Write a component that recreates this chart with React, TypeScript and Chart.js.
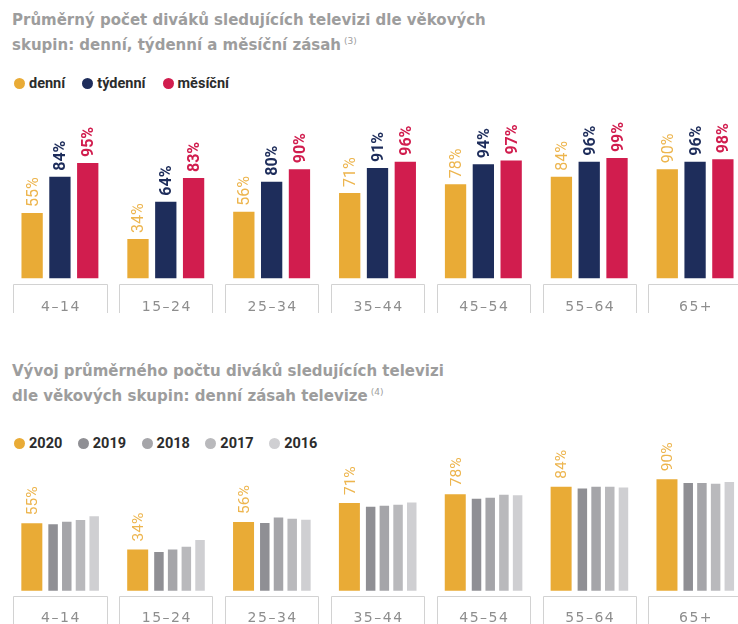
import React, { useEffect, useRef } from 'react';
import { Chart, registerables } from 'chart.js';

Chart.register(...registerables);

// ---------- data ----------
const AGE_GROUPS = ['4–14', '15–24', '25–34', '35–44', '45–54', '55–64', '65+'];

const DAILY = [55, 34, 56, 71, 78, 84, 90];
const WEEKLY = [84, 64, 80, 91, 94, 96, 96];
const MONTHLY = [95, 83, 90, 96, 97, 99, 98];

const Y2020 = [55, 34, 56, 71, 78, 84, 90];
const Y2019 = [54.2, 32, 55.2, 68, 74.4, 82.6, 87];
const Y2018 = [56.1, 34, 59.6, 68.8, 75.2, 84, 87];
const Y2017 = [57.5, 36.2, 58.5, 69.6, 77.7, 84, 86.4];
const Y2016 = [60.5, 41.5, 57.7, 71.5, 77.2, 83.4, 87.8];

const TOP_SERIES = ['denní', 'týdenní', 'měsíční'];
const BOTTOM_SERIES = ['2020', '2019', '2018', '2017', '2016'];

// ---------- styles ----------
const YELLOW = '#E9AB36';
const YELLOW_LABEL = '#EDB54E';
const NAVY = '#1E2D5B';
const CRIMSON = '#D11D4E';
const G2019 = '#8F8F94';
const G2018 = '#A5A5A9';
const G2017 = '#B9B9BC';
const G2016 = '#CFCFD2';

type LabelCfg = { color: string; font: string; gap: number };

function makeLabelPlugin(cfg: Record<number, LabelCfg>) {
  return {
    id: 'rotatedValueLabels',
    afterDatasetsDraw(chart: any) {
      const ctx = chart.ctx;
      Object.keys(cfg).forEach((k) => {
        const di = Number(k);
        const c = cfg[di];
        const meta = chart.getDatasetMeta(di);
        const data = chart.data.datasets[di].data as number[];
        meta.data.forEach((el: any, i: number) => {
          const v = data[i];
          if (v == null) return;
          ctx.save();
          ctx.translate(el.x + 1.5, el.y - c.gap);
          ctx.rotate(-Math.PI / 2);
          ctx.font = c.font;
          ctx.fillStyle = c.color;
          ctx.textAlign = 'left';
          ctx.textBaseline = 'middle';
          ctx.fillText(Math.round(v) + '%', 0, 0);
          ctx.restore();
        });
      });
    },
  };
}

function makeBoxPlugin(boxGap: number, labelOffset: number, boxBottom: number) {
  return {
    id: 'groupBoxes',
    afterDraw(chart: any) {
      const { ctx, chartArea } = chart;
      const xs = chart.scales.x;
      const labels = chart.data.labels as string[];
      const top = Math.round(chartArea.bottom + boxGap) + 0.5;
      ctx.save();
      ctx.strokeStyle = '#d2d2d2';
      ctx.lineWidth = 1;
      ctx.font = '14px "DejaVu Sans"';
      try { (ctx as any).letterSpacing = '1.5px'; } catch (e) {}
      ctx.fillStyle = '#8e8e8e';
      ctx.textAlign = 'center';
      ctx.textBaseline = 'middle';
      labels.forEach((lab, i) => {
        const cx = xs.getPixelForValue(i);
        const l = Math.round(cx - 46.7) + 0.5;
        const r = Math.round(cx + 46.7) + 0.5;
        ctx.beginPath();
        ctx.moveTo(l, boxBottom);
        ctx.lineTo(l, top);
        ctx.lineTo(r, top);
        ctx.lineTo(r, boxBottom);
        ctx.stroke();
        ctx.fillText(lab, cx + 1, chartArea.bottom + labelOffset);
      });
      ctx.restore();
    },
  };
}

const titleStyle: React.CSSProperties = {
  position: 'absolute',
  left: 12,
  font: 'bold 15px "DejaVu Sans"',
  lineHeight: '21px',
  color: '#9d9d9d',
  whiteSpace: 'nowrap',
};

function Legend({ items, top, gap }: { items: { label: string; color: string }[]; top: number; gap: number }) {
  return (
    <div
      style={{
        position: 'absolute',
        left: 14,
        top,
        display: 'flex',
        alignItems: 'center',
        font: 'bold 14.5px Roboto',
        lineHeight: '17px',
        color: '#2c2c2c',
        whiteSpace: 'nowrap',
      }}
    >
      {items.map((it) => (
        <span key={it.label} style={{ display: 'flex', alignItems: 'center', marginRight: gap }}>
          <span
            style={{
              display: 'inline-block',
              width: 11,
              height: 11,
              borderRadius: '50%',
              background: it.color,
              marginRight: 4,
            }}
          />
          {it.label}
        </span>
      ))}
    </div>
  );
}

export default function App() {
  const topRef = useRef<HTMLCanvasElement>(null);
  const botRef = useRef<HTMLCanvasElement>(null);

  useEffect(() => {
    const topCats = 0.788;
    const topBars = 0.766;
    const c1 = new Chart(topRef.current as HTMLCanvasElement, {
      type: 'bar',
      data: {
        labels: AGE_GROUPS,
        datasets: [
          { label: TOP_SERIES[0], data: DAILY, backgroundColor: YELLOW, categoryPercentage: topCats, barPercentage: topBars },
          { label: TOP_SERIES[1], data: WEEKLY, backgroundColor: NAVY, categoryPercentage: topCats, barPercentage: topBars },
          { label: TOP_SERIES[2], data: MONTHLY, backgroundColor: CRIMSON, categoryPercentage: topCats, barPercentage: topBars },
        ],
      },
      options: {
        responsive: false,
        animation: false,
        layout: { padding: { left: 7, right: 12, top: 0, bottom: 41.7 } },
        plugins: { legend: { display: false }, tooltip: { enabled: false }, title: { display: false } },
        scales: {
          x: { type: 'category', display: false, offset: true },
          y: { display: false, min: 2.5, max: 145.6 },
        },
      },
      plugins: [
        makeLabelPlugin({
          0: { color: YELLOW_LABEL, font: '16px Roboto', gap: 6 },
          1: { color: NAVY, font: 'bold 16px Roboto', gap: 6 },
          2: { color: CRIMSON, font: 'bold 16px Roboto', gap: 6 },
        }),
        makeBoxPlugin(6, 29.5, 213),
      ],
    } as any);

    // 2020 bar is wider and sits left of the four narrower grey bars
    const wideCat = 0.637;
    const wideBar = 1.868;
    const grayCat = 0.7765;
    const grayBar = 0.693;
    const c2 = new Chart(botRef.current as HTMLCanvasElement, {
      type: 'bar',
      data: {
        labels: AGE_GROUPS,
        datasets: [
          { label: BOTTOM_SERIES[0], data: Y2020, backgroundColor: YELLOW, categoryPercentage: wideCat, barPercentage: wideBar },
          { label: '', data: AGE_GROUPS.map(() => null), categoryPercentage: grayCat, barPercentage: grayBar },
          { label: BOTTOM_SERIES[1], data: Y2019, backgroundColor: G2019, categoryPercentage: grayCat, barPercentage: grayBar },
          { label: BOTTOM_SERIES[2], data: Y2018, backgroundColor: G2018, categoryPercentage: grayCat, barPercentage: grayBar },
          { label: BOTTOM_SERIES[3], data: Y2017, backgroundColor: G2017, categoryPercentage: grayCat, barPercentage: grayBar },
          { label: BOTTOM_SERIES[4], data: Y2016, backgroundColor: G2016, categoryPercentage: grayCat, barPercentage: grayBar },
        ],
      },
      options: {
        responsive: false,
        animation: false,
        layout: { padding: { left: 7, right: 12, top: 0, bottom: 33.3 } },
        plugins: { legend: { display: false }, tooltip: { enabled: false }, title: { display: false } },
        scales: {
          x: { type: 'category', display: false, offset: true },
          y: { display: false, min: 1.2, max: 129.2 },
        },
      },
      plugins: [
        makeLabelPlugin({
          0: { color: YELLOW_LABEL, font: '15.5px Roboto', gap: 8 },
        }),
        makeBoxPlugin(5, 28, 194),
      ],
    } as any);

    return () => {
      c1.destroy();
      c2.destroy();
    };
  }, []);

  return (
    <div
      style={{
        position: 'fixed',
        left: 0,
        top: 0,
        width: 738,
        height: 624,
        overflow: 'hidden',
        background: '#ffffff',
      }}
    >
      <div style={{ ...titleStyle, top: 9.5 }}>
        Průměrný počet diváků sledujících televizi dle věkových
        <br />
        skupin: denní, týdenní a měsíční zásah
        <sup style={{ fontSize: 9, fontWeight: 'normal', marginLeft: 3, verticalAlign: 6 }}>(3)</sup>
      </div>
      <Legend
        top={74.5}
        gap={17}
        items={[
          { label: TOP_SERIES[0], color: YELLOW },
          { label: TOP_SERIES[1], color: NAVY },
          { label: TOP_SERIES[2], color: CRIMSON },
        ]}
      />
      <div style={{ position: 'absolute', left: 0, top: 100, width: 760, height: 220 }}>
        <canvas ref={topRef} width={760} height={220} style={{ width: 760, height: 220, display: 'block' }} />
      </div>

      <div style={{ ...titleStyle, top: 360.5 }}>
        Vývoj průměrného počtu diváků sledujících televizi
        <br />
        dle věkových skupin: denní zásah televize
        <sup style={{ fontSize: 9, fontWeight: 'normal', marginLeft: 3, verticalAlign: 6 }}>(4)</sup>
      </div>
      <Legend
        top={434.5}
        gap={15.5}
        items={[
          { label: BOTTOM_SERIES[0], color: YELLOW },
          { label: BOTTOM_SERIES[1], color: G2019 },
          { label: BOTTOM_SERIES[2], color: G2018 },
          { label: BOTTOM_SERIES[3], color: G2017 },
          { label: BOTTOM_SERIES[4], color: G2016 },
        ]}
      />
      <div style={{ position: 'absolute', left: 0, top: 430, width: 760, height: 194 }}>
        <canvas ref={botRef} width={760} height={194} style={{ width: 760, height: 194, display: 'block' }} />
      </div>
    </div>
  );
}
